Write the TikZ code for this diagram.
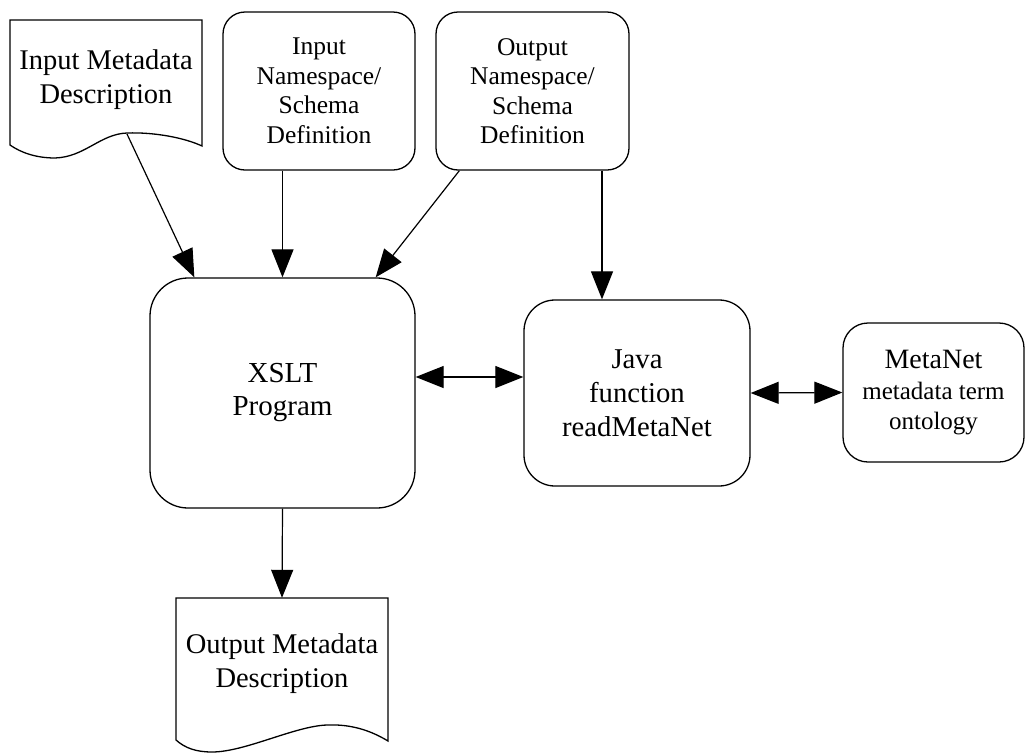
\documentclass[tikz,border=0pt]{standalone}
\usepackage{fontspec}
\setmainfont{Liberation Serif}
\usetikzlibrary{arrows.meta}
\begin{document}
\begin{tikzpicture}[x=1pt,y=-1pt,
  box/.style={draw, line width=1.3pt, align=center, inner sep=0pt},
  conn/.style={line width=1.2pt, -{Triangle[length=28pt,width=22pt]}},
  biconn/.style={line width=1.2pt, {Triangle[length=28pt,width=22pt]}-{Triangle[length=28pt,width=22pt]}},
  docline/.style={line width=1.3pt},
  doctext/.style={align=center, inner sep=0pt, font=\fontsize{28.5}{34}\selectfont}]
\useasboundingbox (0,0) rectangle (1029,753);

% boxes
\node[box, rounded corners=22pt, minimum width=192pt, minimum height=158pt,
      font=\fontsize{25.5}{29.5}\selectfont] (ins) at (319,91)
      {Input\\Namespace/\\Schema\\Definition};
\node[box, rounded corners=22pt, minimum width=193pt, minimum height=158pt,
      font=\fontsize{25.5}{29.5}\selectfont] (ons) at (532.5,91)
      {Output\\Namespace/\\Schema\\Definition};
\node[box, rounded corners=38pt, minimum width=265pt, minimum height=230pt,
      font=\fontsize{29}{33}\selectfont] (xslt) at (282.5,393)
      {XSLT\\Program};
\node[box, rounded corners=31pt, minimum width=226pt, minimum height=186pt,
      font=\fontsize{28.7}{34}\selectfont] (java) at (637,393)
      {Java\\function\\readMetaNet};
\node[box, rounded corners=25pt, minimum width=181pt, minimum height=139pt,
      font=\fontsize{25}{29.5}\selectfont] (mn) at (933.5,392.5)
      {{\fontsize{28}{32}\selectfont MetaNet}\\[2pt]metadata term\\ontology};

% documents
\node[doctext, minimum width=192pt, minimum height=120pt] (imd) at (106,80)
      {Input Metadata\\Description};
\draw[docline] (10,20) -- (202,20) -- (202,146)
  .. controls (185,138) and (155,132) .. (127,133)
  .. controls (100,134) and (85,157) .. (55,158)
  .. controls (35,158) and (20,152) .. (10,145) -- cycle;
\coordinate (imdw) at (127,134);

\node[doctext, minimum width=212pt, minimum height=132pt] (omd) at (282,664)
      {Output Metadata\\Description};
\draw[docline] (176,598) -- (388,598) -- (388,741)
  .. controls (370,730) and (350,724) .. (327,725)
  .. controls (295,726) and (245,752) .. (212,752)
  .. controls (196,752) and (185,748) .. (176,740) -- cycle;

% connectors
\coordinate (xtl) at ([xshift=45pt]xslt.north west);
\coordinate (xtr) at ([xshift=-40pt]xslt.north east);
\coordinate (onsl) at ([xshift=24pt]ons.south west);
\coordinate (jtop) at ([xshift=-35pt]java.north);
\coordinate (xr) at ([yshift=16pt]xslt.east);

\draw[conn] (imdw) -- (xtl);
\draw[conn] (ins.south -| xslt.north) -- (xslt.north);
\draw[conn] (onsl) -- (xtr);
\draw[conn] (ons.south -| jtop) -- (jtop);
\draw[biconn] (xr) -- (java.west |- xr);
\draw[biconn] (java.east) -- (mn.west);
\draw[conn] (xslt.south) -- (omd.north);
\end{tikzpicture}
\end{document}
